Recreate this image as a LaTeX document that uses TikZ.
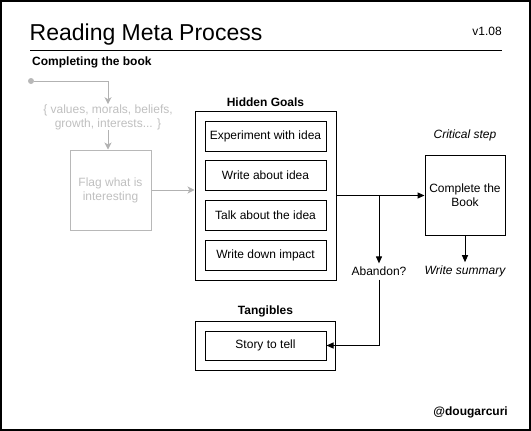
\documentclass[tikz,border=0pt]{standalone}
\usepackage{fontspec}
\setmainfont{Liberation Sans}
\usetikzlibrary{arrows.meta}
\begin{document}
\begin{tikzpicture}[x=1pt,y=-1pt,
  txt/.style={inner sep=0pt, align=center, font=\fontsize{12}{14}\selectfont},
  box/.style={txt, draw, line width=1pt, rectangle},
  gbox/.style={txt, draw=black!28, text=black!25, line width=1pt, rectangle},
  arr/.style={-{Triangle[length=7pt,width=6pt]}, line width=1pt},
  garr/.style={draw=black!30, -{Stealth[length=7pt,width=7pt,inset=2pt]}, line width=0.8pt}]
\useasboundingbox (0,0) rectangle (531,431);
\draw[line width=1.5pt] (1,1) rectangle (530,430);
% header
\node[inner sep=0pt, anchor=base west, font=\fontsize{23}{26}\selectfont] (title) at (29.5,40) {Reading Meta Process};
\node[inner sep=0pt, anchor=base east, font=\fontsize{12}{14}\selectfont] (ver) at (502,35) {v1.08};
\coordinate (hl) at (30,50);
\coordinate (hr) at (502,50);
\draw[line width=1pt] (hl) -- (hr);
\node[inner sep=0pt, anchor=base west, font=\bfseries\fontsize{12}{14}\selectfont] (sub) at (32,65) {Completing the book};
% grey part
\node[circle, fill=black!28, inner sep=0pt, minimum size=6pt] (dot) at (31,81) {};
\node[txt, text=black!25] (vals) at (108,117) {\{ values, morals, beliefs,\\growth, interests... \}};
\node[gbox, minimum width=81pt, minimum height=80pt] (flag) at (110.5,190) {Flag what is\\interesting};
\draw[garr] (dot) -| (vals.north);
\draw[garr] (vals.south) -- (vals.south |- flag.north);
% hidden goals
\node[txt, font=\bfseries\fontsize{12}{14}\selectfont] (hglbl) at (265.5,102) {Hidden Goals};
\node[box, minimum width=141pt, minimum height=169pt] (hidden) at (265.5,195.5) {};
\node[box, minimum width=121pt, minimum height=30pt] (g1) at (265.5,136) {Experiment with idea};
\node[box, minimum width=121pt, minimum height=30pt] (g2) at (265.5,175.5) {Write about idea};
\node[box, minimum width=121pt, minimum height=30pt] (g3) at (265.5,215.5) {Talk about the idea};
\node[box, minimum width=121pt, minimum height=30pt] (g4) at (265.5,255.5) {Write down impact};
\draw[garr] (flag.east) -- (flag.east -| hidden.west);
% tangibles
\node[txt, font=\bfseries\fontsize{12}{14}\selectfont] (tglbl) at (265.5,311) {Tangibles};
\node[box, minimum width=140pt, minimum height=49pt] (tang) at (265.5,345.5) {};
\node[box, minimum width=121pt, minimum height=29pt] (story) at (265.5,345.5) {Story to tell};
% right part
\node[txt, font=\itshape\fontsize{12}{14}\selectfont] (crit) at (465,135) {Critical step};
\node[box, minimum width=80pt, minimum height=80pt] (complete) at (465,195.5) {Complete the\\Book};
\node[txt] (aband) at (379,271) {Abandon?};
\node[txt, font=\itshape\fontsize{12}{14}\selectfont] (summ) at (465,271) {Write summary};
\coordinate (br) at (379,195.5);
\draw[arr] (hidden.east) -- (complete.west);
\draw[arr] (br) -- ([yshift=3pt]aband.north);
\draw[arr] (complete.south) -- ([yshift=3pt]summ.north);
\draw[arr] ([yshift=-4pt]aband.south) |- (story.east);
% footer
\node[inner sep=0pt, anchor=base east, font=\bfseries\fontsize{12}{14}\selectfont] (auth) at (508,415) {@dougarcuri};
\end{tikzpicture}
\end{document}
